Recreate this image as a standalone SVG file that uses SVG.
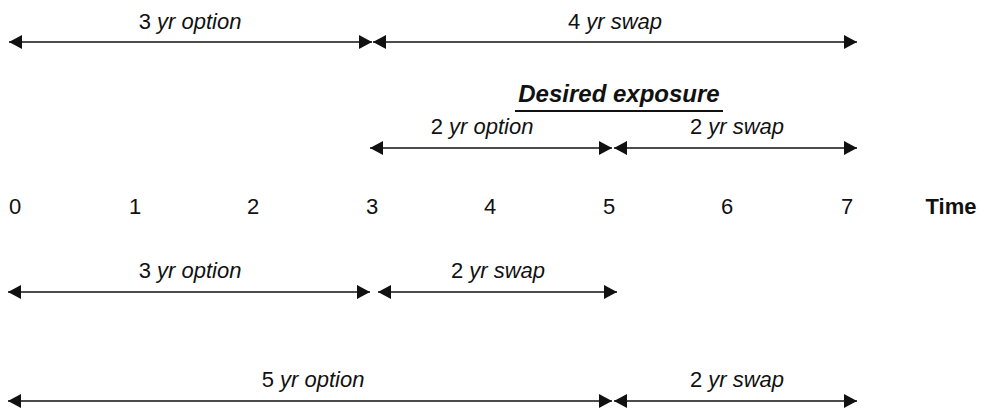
<svg xmlns="http://www.w3.org/2000/svg" width="987" height="411" viewBox="0 0 987 411">
<style>
text{font-family:"Liberation Sans",Arial,sans-serif;font-size:22px;fill:#111;text-anchor:middle}
.lbl{font-style:italic}
.lbl tspan.n{font-style:normal}
.ttl{font-style:italic;font-weight:bold;font-size:24px}
.bold{font-weight:bold}
.arr{stroke:#111;stroke-width:1.6;fill:none;marker-start:url(#ah);marker-end:url(#ah)}
</style>
<defs>
<marker id="ah" viewBox="0 0 13 14" refX="13" refY="7" markerWidth="13" markerHeight="14" orient="auto-start-reverse" markerUnits="userSpaceOnUse">
<path d="M0,0 L13,7 L0,14 z" fill="#111"/>
</marker>
</defs>
<g id="axis">
<text x="15" y="214">0</text>
<text x="135" y="214">1</text>
<text x="253" y="214">2</text>
<text x="372" y="214">3</text>
<text x="490" y="214">4</text>
<text x="609" y="214">5</text>
<text x="727" y="214">6</text>
<text x="847" y="214">7</text>
<text class="bold" x="951" y="214">Time</text>
</g>
<g id="desired">
<text class="ttl" x="619" y="102">Desired exposure</text>
<line x1="515" y1="111" x2="723" y2="111" stroke="#111" stroke-width="2"/>
</g>
<g id="labels">
<text class="lbl" x="190" y="29"><tspan class="n">3</tspan> yr option</text>
<text class="lbl" x="615" y="29"><tspan class="n">4</tspan> yr swap</text>
<text class="lbl" x="482" y="134"><tspan class="n">2</tspan> yr option</text>
<text class="lbl" x="737" y="134"><tspan class="n">2</tspan> yr swap</text>
<text class="lbl" x="190" y="278"><tspan class="n">3</tspan> yr option</text>
<text class="lbl" x="498" y="278"><tspan class="n">2</tspan> yr swap</text>
<text class="lbl" x="313" y="387"><tspan class="n">5</tspan> yr option</text>
<text class="lbl" x="737" y="387"><tspan class="n">2</tspan> yr swap</text>
</g>
<g id="connectors">
<line class="arr" x1="9" y1="42" x2="372" y2="42"/>
<line class="arr" x1="373" y1="42" x2="857" y2="42"/>
<line class="arr" x1="370" y1="148" x2="612" y2="148"/>
<line class="arr" x1="614" y1="148" x2="857" y2="148"/>
<line class="arr" x1="8" y1="292" x2="370" y2="292"/>
<line class="arr" x1="378" y1="292" x2="617" y2="292"/>
<line class="arr" x1="8" y1="401" x2="612" y2="401"/>
<line class="arr" x1="614" y1="401" x2="857" y2="401"/>
</g>
</svg>
